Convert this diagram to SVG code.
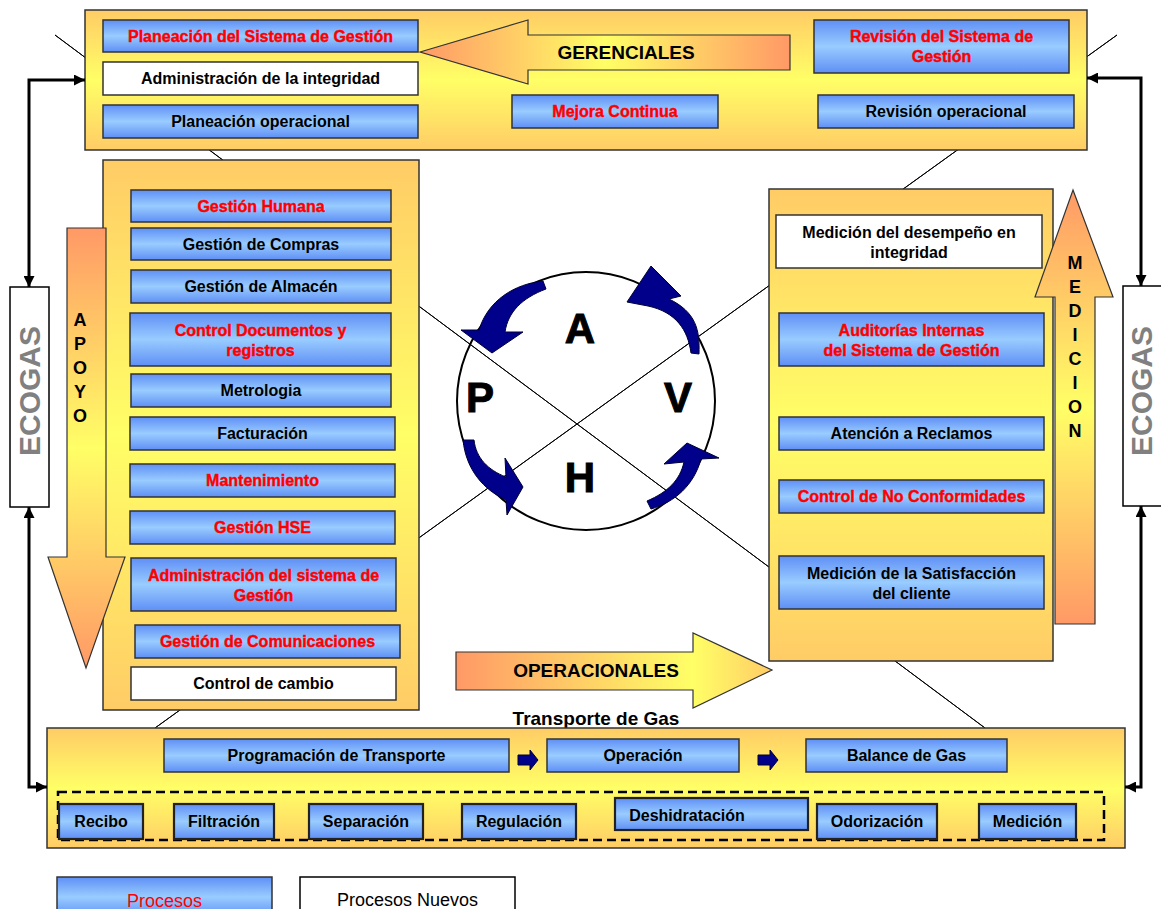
<svg xmlns="http://www.w3.org/2000/svg" width="1161" height="909" viewBox="0 0 1161 909">
<defs>
<linearGradient id="gBlue" x1="0" y1="0" x2="0" y2="1"><stop offset="0" stop-color="#5F8FF5"/><stop offset="0.5" stop-color="#99CCFF"/><stop offset="1" stop-color="#5F8FF5"/></linearGradient>
<linearGradient id="gYel" x1="0" y1="0" x2="0" y2="1"><stop offset="0" stop-color="#FFCC66"/><stop offset="0.5" stop-color="#FFFF66"/><stop offset="1" stop-color="#FFCC66"/></linearGradient>
<linearGradient id="gArrH" x1="0" y1="0" x2="1" y2="0"><stop offset="0" stop-color="#FF9966"/><stop offset="0.5" stop-color="#FFFF66"/><stop offset="1" stop-color="#FF9966"/></linearGradient>
<linearGradient id="gArrOp" x1="0" y1="0" x2="1" y2="0"><stop offset="0" stop-color="#FF9966"/><stop offset="0.75" stop-color="#FFFF66"/><stop offset="1" stop-color="#FFCC66"/></linearGradient>
<linearGradient id="gArrV" x1="0" y1="0" x2="0" y2="1"><stop offset="0" stop-color="#FF9966"/><stop offset="0.5" stop-color="#FFFF66"/><stop offset="1" stop-color="#FF9966"/></linearGradient>
<marker id="ah" viewBox="0 0 10 10" refX="10" refY="5" markerWidth="11" markerHeight="11" markerUnits="userSpaceOnUse" orient="auto-start-reverse"><path d="M0,0 L10,5 L0,10 z" fill="#000"/></marker>
<style>
.panel{fill:url(#gYel);stroke:#333;stroke-width:1.5}
.bx{fill:url(#gBlue);stroke:#333;stroke-width:1.5}
.bx2{fill:url(#gBlue);stroke:#222;stroke-width:2.2}
.wb{fill:#fff;stroke:#333;stroke-width:1.5}
.t{font-family:"Liberation Sans",Arial,sans-serif;font-weight:bold;font-size:16px;text-anchor:middle;fill:#000}
.r{fill:#F00;stroke:#F00;stroke-width:0.4}
.big{font-size:19px}
.let{font-size:18px}
.pdca{font-family:"Liberation Sans",Arial,sans-serif;font-weight:bold;font-size:42px;text-anchor:middle;fill:#000;stroke:#000;stroke-width:1}
.eco{font-family:"Liberation Sans",Arial,sans-serif;font-weight:bold;font-size:30px;text-anchor:middle;fill:#808080}
.thin{stroke:#000;stroke-width:1;fill:none}
.conn{stroke:#000;stroke-width:3;fill:none;marker-start:url(#ah);marker-end:url(#ah)}
.navy{fill:#00008B;stroke:#000033;stroke-width:1}
.leg{font-family:"Liberation Sans",Arial,sans-serif;font-size:18px;text-anchor:middle}
</style>
</defs>
<rect width="1161" height="909" fill="#fff"/>

<g id="diagonales">
<line class="thin" x1="55" y1="35" x2="985" y2="728"/>
<line class="thin" x1="1117" y1="35" x2="155" y2="728"/>
</g>

<g id="ciclo-phva">
<circle cx="586" cy="401" r="129" fill="none" stroke="#000" stroke-width="2"/>
<line class="thin" x1="55" y1="35" x2="985" y2="728"/>
<line class="thin" x1="1117" y1="35" x2="155" y2="728"/>
<text class="pdca" x="580" y="343">A</text>
<text class="pdca" x="480" y="412">P</text>
<text class="pdca" x="678" y="412">V</text>
<text class="pdca" x="580" y="492">H</text>
<path class="navy" d="M461,330 L492,353 L523,332 L505,332 C508,312 522,298 546,289 L543,281 C515,284 488,300 479,330 Z"/>
<path class="navy" d="M627,302 L651,266 L681,296 L669,299 C696,312 700,330 699,354 L691,353 C688,330 676,312 648,306 Z"/>
<path class="navy" d="M505,458 L523,487 L507,515 L506,500 C484,490 466,470 463,440 L474,440 C476,458 488,470 506,477 Z"/>
<path class="navy" d="M664,464 L687,443 L719,458 L701,459 C694,485 675,502 651,509 L647,501 C668,492 680,480 684,462 Z"/>
</g>

<g id="gerenciales">
<rect class="panel" x="85" y="10" width="1002" height="140"/>
<path d="M420,52 L528,20 L528,35 L790,35 L790,70 L528,70 L528,84 Z" fill="url(#gArrH)" stroke="#333" stroke-width="1.2"/>
<text class="t big" x="626" y="59">GERENCIALES</text>
<g id="planeacion-sg"><rect class="bx" x="103" y="20" width="315" height="32"/><text class="t r" x="260.5" y="41.5">Planeación del Sistema de Gestión</text></g>
<g id="admin-integridad"><rect class="wb" x="103" y="62" width="315" height="33"/><text class="t" x="260.5" y="84">Administración de la integridad</text></g>
<g id="planeacion-op"><rect class="bx" x="103" y="105" width="315" height="33"/><text class="t" x="260.5" y="127">Planeación operacional</text></g>
<g id="mejora"><rect class="bx" x="512" y="95" width="206" height="33"/><text class="t r" x="615" y="117">Mejora Continua</text></g>
<g id="revision-sg"><rect class="bx" x="814" y="20" width="255" height="53"/><text class="t r" x="941.5" y="41.5">Revisión del Sistema de</text><text class="t r" x="941.5" y="62">Gestión</text></g>
<g id="revision-op"><rect class="bx" x="818" y="95" width="256" height="33"/><text class="t" x="946" y="117">Revisión operacional</text></g>
</g>

<g id="apoyo">
<rect class="panel" x="103" y="160" width="316" height="550"/>
<g id="g-humana"><rect class="bx" x="131" y="190" width="260" height="32"/><text class="t r" x="261" y="211.5">Gestión Humana</text></g>
<g id="g-compras"><rect class="bx" x="131" y="228" width="260" height="32"/><text class="t" x="261" y="249.5">Gestión de Compras</text></g>
<g id="g-almacen"><rect class="bx" x="131" y="270" width="260" height="33"/><text class="t" x="261" y="292">Gestión de Almacén</text></g>
<g id="control-doc"><rect class="bx" x="130" y="313" width="261" height="53"/><text class="t r" x="260.5" y="335.5">Control Documentos y</text><text class="t r" x="260.5" y="355.5">registros</text></g>
<g id="metrologia"><rect class="bx" x="131" y="374" width="260" height="33"/><text class="t" x="261" y="396">Metrologia</text></g>
<g id="facturacion"><rect class="bx" x="130" y="417" width="265" height="33"/><text class="t" x="262.5" y="439">Facturación</text></g>
<g id="mantenimiento"><rect class="bx" x="130" y="464" width="265" height="33"/><text class="t r" x="262.5" y="486">Mantenimiento</text></g>
<g id="g-hse"><rect class="bx" x="130" y="511" width="265" height="33"/><text class="t r" x="262.5" y="533">Gestión HSE</text></g>
<g id="admin-sg"><rect class="bx" x="131" y="558" width="265" height="53"/><text class="t r" x="263.5" y="580.5">Administración del sistema de</text><text class="t r" x="263.5" y="600.5">Gestión</text></g>
<g id="g-comunicaciones"><rect class="bx" x="135" y="625" width="265" height="33"/><text class="t r" x="267.5" y="647">Gestión de Comunicaciones</text></g>
<g id="control-cambio"><rect class="wb" x="131" y="667" width="265" height="33"/><text class="t" x="263.5" y="689">Control de cambio</text></g>
<path d="M67,228 L106,228 L106,557 L125,557 L86,668 L48,557 L67,557 Z" fill="url(#gArrV)" stroke="#333" stroke-width="1.2"/>
<g class="t let"><text x="80" y="326">A</text><text x="80" y="350">P</text><text x="80" y="374">O</text><text x="80" y="398">Y</text><text x="80" y="422">O</text></g>
</g>

<g id="medicion">
<rect class="panel" x="769" y="189" width="284" height="472"/>
<g id="med-desempeno"><rect class="wb" x="776" y="215" width="266" height="53"/><text class="t" x="909" y="237.5">Medición del desempeño en</text><text class="t" x="909" y="257.5">integridad</text></g>
<g id="auditorias"><rect class="bx" x="779" y="313" width="265" height="53"/><text class="t r" x="911.5" y="335.5">Auditorías Internas</text><text class="t r" x="911.5" y="355.5">del Sistema de Gestión</text></g>
<g id="reclamos"><rect class="bx" x="779" y="417" width="265" height="33"/><text class="t" x="911.5" y="439">Atención a Reclamos</text></g>
<g id="no-conformidades"><rect class="bx" x="779" y="480" width="265" height="33"/><text class="t r" x="911.5" y="502">Control de No Conformidades</text></g>
<g id="satisfaccion"><rect class="bx" x="779" y="556" width="265" height="53"/><text class="t" x="911.5" y="578.5">Medición de la Satisfacción</text><text class="t" x="911.5" y="598.5">del cliente</text></g>
<path d="M1073,190 L1113,297 L1095,297 L1095,624 L1055,624 L1055,297 L1035,297 Z" fill="url(#gArrV)" stroke="#333" stroke-width="1.2"/>
<g class="t let"><text x="1075" y="269">M</text><text x="1075" y="293">E</text><text x="1075" y="317">D</text><text x="1075" y="341">I</text><text x="1075" y="365">C</text><text x="1075" y="389">I</text><text x="1075" y="413">O</text><text x="1075" y="437">N</text></g>
</g>

<g id="operacionales">
<path d="M456,652 L693,652 L693,633 L772,670 L693,708 L693,690 L456,690 Z" fill="url(#gArrOp)" stroke="#333" stroke-width="1.2"/>
<text class="t big" x="596" y="677">OPERACIONALES</text>
</g>

<g id="transporte">
<text class="t" style="font-size:19px" x="596" y="725">Transporte de Gas</text>
<rect class="panel" x="47" y="728" width="1078" height="120"/>
<g id="programacion"><rect class="bx" x="164" y="739" width="345" height="33"/><text class="t" x="336.5" y="761">Programación de Transporte</text></g>
<path class="navy" d="M518,755 L530,755 L530,750 L538,760 L530,770 L530,765 L518,765 Z"/>
<g id="operacion"><rect class="bx" x="547" y="739" width="192" height="33"/><text class="t" x="643" y="761">Operación</text></g>
<path class="navy" d="M758,755 L770,755 L770,750 L778,760 L770,770 L770,765 L758,765 Z"/>
<g id="balance"><rect class="bx" x="806" y="739" width="201" height="33"/><text class="t" x="906.5" y="761">Balance de Gas</text></g>
<rect x="58" y="792" width="1046" height="48" fill="none" stroke="#000" stroke-width="2.5" stroke-dasharray="9 5"/>
<g id="recibo"><rect class="bx2" x="59" y="804" width="84" height="35"/><text class="t" x="101" y="827">Recibo</text></g>
<g id="filtracion"><rect class="bx2" x="174" y="804" width="100" height="35"/><text class="t" x="224" y="827">Filtración</text></g>
<g id="separacion"><rect class="bx2" x="309" y="804" width="114" height="35"/><text class="t" x="366" y="827">Separación</text></g>
<g id="regulacion"><rect class="bx2" x="462" y="804" width="114" height="35"/><text class="t" x="519" y="827">Regulación</text></g>
<g id="deshidratacion"><rect class="bx2" x="615" y="798" width="193" height="32"/><text class="t" x="687" y="820.5">Deshidratación</text></g>
<g id="odorizacion"><rect class="bx2" x="817" y="804" width="120" height="35"/><text class="t" x="877" y="827">Odorización</text></g>
<g id="medicion-gas"><rect class="bx2" x="979" y="804" width="97" height="35"/><text class="t" x="1027.5" y="827">Medición</text></g>
</g>

<g id="ecogas-izq">
<rect x="10" y="287" width="39" height="220" fill="#fff" stroke="#000" stroke-width="1.5"/>
<text class="eco" transform="translate(40,391) rotate(-90)">ECOGAS</text>
</g>
<g id="ecogas-der">
<rect x="1123" y="286" width="42" height="220" fill="#fff" stroke="#000" stroke-width="1.5"/>
<text class="eco" transform="translate(1152,391) rotate(-90)">ECOGAS</text>
</g>

<g id="conectores">
<path class="conn" d="M29,287 L29,80 L85,80"/>
<path class="conn" d="M29,507 L29,787 L47,787"/>
<path class="conn" d="M1087,78 L1141,78 L1141,286"/>
<path class="conn" d="M1141,506 L1141,787 L1125,787"/>
</g>

<g id="leyenda">
<g id="leg-procesos"><rect class="bx" x="57" y="877" width="215" height="40" stroke="#000"/><text class="leg" x="164.5" y="907" fill="#F00">Procesos</text></g>
<g id="leg-nuevos"><rect x="300" y="877" width="215" height="40" fill="#fff" stroke="#000" stroke-width="1.5"/><text class="leg" x="407.5" y="906" fill="#000">Procesos Nuevos</text></g>
</g>
</svg>
